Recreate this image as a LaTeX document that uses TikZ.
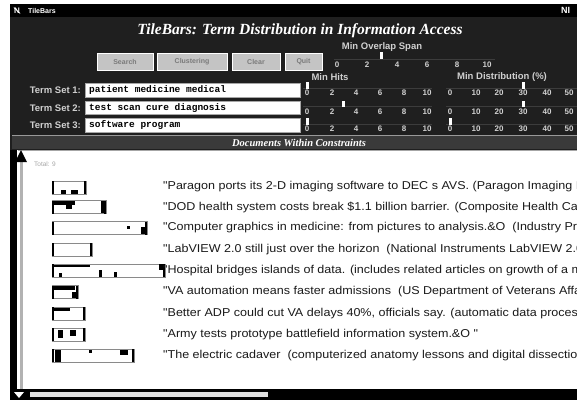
\documentclass[tikz,border=0pt]{standalone}
\usepackage{fontspec}
\setmainfont{Liberation Sans}
\newfontfamily\titlefont{Liberation Serif}
\newfontfamily\fieldfont{Liberation Mono}
\newfontfamily\docfont{Liberation Sans}[FakeStretch=1.1]
\definecolor{winbg}{HTML}{1F1F1F}
\definecolor{barbg}{HTML}{3A3A3A}
\definecolor{labgray}{HTML}{D0D0D0}
\definecolor{btngray}{HTML}{C4C4C4}
\definecolor{btntext}{HTML}{7A7A7A}
\definecolor{doctext}{HTML}{1A1A1A}
\definecolor{tilegray}{HTML}{8A8A8A}
\definecolor{trough}{HTML}{3C3C3C}
\tikzset{
  lbl/.style={font=\fontsize{9.5}{10}\selectfont\bfseries, text=labgray, inner sep=0pt},
  num/.style={font=\fontsize{8}{9}\selectfont\bfseries, text=labgray, inner sep=0pt},
  doc/.style={font=\docfont\fontsize{11.4}{12}\selectfont, text=doctext, anchor=west, inner sep=0pt},
  fieldbox/.style={fill=white, draw=gray!70, line width=0.6pt},
  fieldtxt/.style={font=\fieldfont\fontsize{9.5}{10}\selectfont\bfseries, text=black, anchor=west, inner sep=0pt},
  btn/.style={fill=btngray, draw=white, line width=1pt, minimum height=17pt, inner sep=0pt,
              font=\fontsize{7}{8}\selectfont\bfseries, text=btntext},
  knob/.style={fill=white},
  troughline/.style={draw=trough, line width=0.6pt},
  tilebox/.style={draw=tilegray, line width=1pt, fill=white},
  tileedge/.style={draw=black, line width=2.2pt},
  blob/.style={fill=black},
  titletxt/.style={font=\titlefont\fontsize{15.5}{17}\selectfont\bfseries\itshape, text=white, inner sep=0pt},
}
\begin{document}
\begin{tikzpicture}[x=1pt,y=-1pt]
\useasboundingbox (0,0) rectangle (577,400);
\clip (0,0) rectangle (577,400);
\fill[white] (0,0) rectangle (577,400);
% window background
\fill[winbg] (10,4) rectangle (577,150);
% title bar
\fill[black] (10,4) rectangle (577,17);
\node[font=\fontsize{8}{9}\selectfont\bfseries, text=white, inner sep=0pt] (icon) at (17,10.5) {N};
\draw[white, line width=0.6pt] (icon.north west) -- (icon.south east);
\node[font=\fontsize{7}{8}\selectfont\bfseries, text=white, anchor=west, inner sep=0pt] (appname) at (28,10.5) {TileBars};
\node[font=\fontsize{9}{10}\selectfont\bfseries, text=white, anchor=west, inner sep=0pt] (nicon) at (561,10.5) {NI};
% title
\node[titletxt] (title) at (300,31) {TileBars: Term Distribution in Information Access};
% buttons
\node[btn, minimum width=56pt] (b1) at (125,61.5) {Search};
\node[btn, minimum width=70pt] (b2) at (192,61.5) {Clustering};
\node[btn, minimum width=48pt] (b3) at (256,61.5) {Clear};
\node[btn, minimum width=37pt] (b4) at (303.5,61.5) {Quit};
% overlap slider
\node[lbl] (ovl) at (382,47) {Min Overlap Span};
\draw[troughline] (334,59) -- (495,59);
\fill[knob] (380,52) rectangle (382.5,59);
\foreach \x/\t [count=\i] in {337/0,367/2,397/4,427/6,457/8,487/10}
  \node[num] (ov\i) at (\x,65) {\t};
% headings
\node[lbl] (hits) at (330,77) {Min Hits};
\node[lbl] (dist) at (502,77) {Min Distribution (\%)};
% term set rows
\foreach \r/\ly/\ya/\yb/\ny/\txt in {1/90/83/97/93/patient medicine medical,
                                      2/108/101/114.5/111.5/test scan cure diagnosis,
                                      3/125/118/132/129/software program}{
  \node[lbl, anchor=east] (ts\r) at (81,\ly) {Term Set \r:};
  \draw[fieldbox] (85,\ya) rectangle (300,\yb);
  \node[fieldtxt] (tf\r) at (89,\ly) {\txt};
  \draw[troughline] (303,\ny-5) -- (432,\ny-5);
  \draw[troughline] (446,\ny-5) -- (577,\ny-5);
  \foreach \x/\t [count=\i] in {307/0,332/2,356/4,380/6,404/8,427/10}
    \node[num] (h\r-\i) at (\x,\ny) {\t};
  \foreach \x/\t [count=\i] in {450/0,476/10,499/20,523/30,547/40,569/50}
    \node[num] (d\r-\i) at (\x,\ny) {\t};
}
% slider knobs
\fill[knob] (306,82) rectangle (308.5,88.5);
\fill[knob] (522,82) rectangle (524.5,88.5);
\fill[knob] (342,100.5) rectangle (344.5,107);
\fill[knob] (522,100.5) rectangle (524.5,107);
\fill[knob] (306,118) rectangle (308.5,124.5);
\fill[knob] (449,118) rectangle (451.5,124.5);
% documents bar
\fill[barbg] (12,136) rectangle (577,149);
\draw[gray!80, line width=0.8pt] (12,135.5) -- (577,135.5);
\node[font=\titlefont\fontsize{10.5}{12}\selectfont\bfseries\itshape, text=white, inner sep=0pt] (docbar) at (299,142.5) {Documents Within Constraints};
% list panel
\fill[white] (10,149.5) rectangle (577,390);
\draw[gray!70, line width=0.8pt] (18,150) -- (577,150);
\fill[black] (10,149.5) rectangle (17,392);
\fill[gray!60] (20,160) rectangle (22.5,390);
\fill[black] (15,162) -- (21,150) -- (27,162) -- cycle;
\fill[black] (10,389) rectangle (577,400);
\fill[gray!25] (30,391.5) rectangle (268,397);
\fill[white] (14,392) -- (24,392) -- (19,398) -- cycle;
\node[font=\fontsize{6.5}{7}\selectfont, text=gray!70, anchor=west, inner sep=0pt] (total) at (34,164) {Total: 9};
% tile bars
\foreach \r/\yc/\xr in {1/187.5/86,2/207/106,3/228/147,4/249.5/92,5/270.5/165,6/292/78,7/313.5/85,8/334.5/85,9/355.5/134}{
  \draw[tilebox] (52,\yc-6.5) rectangle (\xr,\yc+6.5);
  \draw[tileedge] (53,\yc-6.5) -- (53,\yc+6.5);
  \draw[tileedge] (\xr-1,\yc-6.5) -- (\xr-1,\yc+6.5);
}
% dark tiles inside the bars
\fill[blob] (61,190) rectangle (66,193.5);
\fill[blob] (71,190) rectangle (78,193.5);
\fill[blob] (54,201) rectangle (75,205);
\fill[blob] (66,204) rectangle (72,209);
\fill[blob] (101,201) rectangle (106,213);
\fill[blob] (127,226) rectangle (130,229);
\fill[blob] (141,227) rectangle (147,234);
\fill[blob] (54,264.5) rectangle (90,266.5);
\fill[blob] (59,273) rectangle (62,277);
\fill[blob] (99,270) rectangle (102,277);
\fill[blob] (114,272) rectangle (117,277);
\fill[blob] (159,264) rectangle (165,270);
\fill[blob] (54,286) rectangle (75,290);
\fill[blob] (72,292) rectangle (78,298);
\fill[blob] (54,307.5) rectangle (70,311);
\fill[blob] (58,330) rectangle (63,338);
\fill[blob] (70,330) rectangle (76,336);
\fill[blob] (55,350) rectangle (61,362);
\fill[blob] (89,350) rectangle (92,353);
\fill[blob] (120,349.5) rectangle (128,355);
% document titles (cut by the window edge, as in the screenshot)
\node[doc] (t1) at (163,186.5) {"Paragon ports its 2-D imaging software to DEC s AVS. (Paragon Imaging I};
\node[doc] (t2) at (163,207) {"DOD health system costs break \$1.1 billion barrier. (Composite Health Care};
\node[doc] (t3) at (163,228) {"Computer graphics in medicine: from pictures to analysis.\&O\ \ (Industry Prof};
\node[doc] (t4) at (163,249.5) {"LabVIEW 2.0 still just over the horizon\ \ (National Instruments LabVIEW 2.0};
\node[doc] (t5) at (163,270.5) {"Hospital bridges islands of data. (includes related articles on growth of a me};
\node[doc] (t6) at (163,292) {"VA automation means faster admissions\ \ (US Department of Veterans Affa};
\node[doc] (t7) at (163,313.5) {"Better ADP could cut VA delays 40\%, officials say. (automatic data process};
\node[doc] (t8) at (163,334.5) {"Army tests prototype battlefield information system.\&O "};
\node[doc] (t9) at (163,355.5) {"The electric cadaver\ \ (computerized anatomy lessons and digital dissection};
\end{tikzpicture}
\end{document}
